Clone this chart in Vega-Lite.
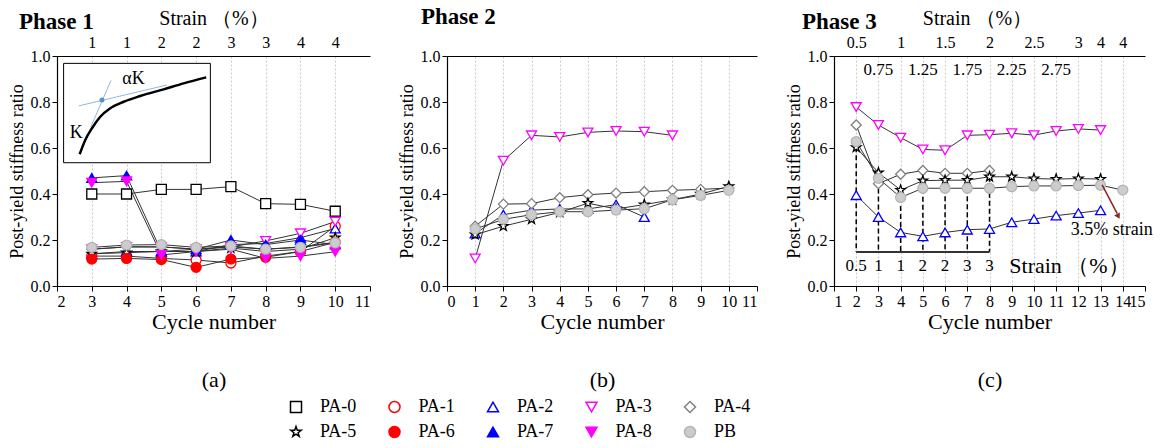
{
"$schema": "https://vega.github.io/schema/vega-lite/v6.json",
"padding": {"left": 8, "top": 6, "right": 2, "bottom": 2},
"background": "white",
"spacing": 77,
"bounds": "flush",
"datasets": {
"p1": [
{"series":"PA-0","cycle":3,"ratio":0.40},{"series":"PA-0","cycle":4,"ratio":0.40},{"series":"PA-0","cycle":5,"ratio":0.42},{"series":"PA-0","cycle":6,"ratio":0.42},{"series":"PA-0","cycle":7,"ratio":0.432},{"series":"PA-0","cycle":8,"ratio":0.358},{"series":"PA-0","cycle":9,"ratio":0.355},{"series":"PA-0","cycle":10,"ratio":0.325},
{"series":"PA-1","cycle":3,"ratio":0.13},{"series":"PA-1","cycle":4,"ratio":0.13},{"series":"PA-1","cycle":5,"ratio":0.12},{"series":"PA-1","cycle":6,"ratio":0.113},{"series":"PA-1","cycle":7,"ratio":0.10},{"series":"PA-1","cycle":8,"ratio":0.13},{"series":"PA-1","cycle":9,"ratio":0.15},{"series":"PA-1","cycle":10,"ratio":0.26},
{"series":"PA-2","cycle":3,"ratio":0.14},{"series":"PA-2","cycle":4,"ratio":0.15},{"series":"PA-2","cycle":5,"ratio":0.15},{"series":"PA-2","cycle":6,"ratio":0.15},{"series":"PA-2","cycle":7,"ratio":0.18},{"series":"PA-2","cycle":8,"ratio":0.185},{"series":"PA-2","cycle":9,"ratio":0.21},{"series":"PA-2","cycle":10,"ratio":0.25},
{"series":"PA-3","cycle":3,"ratio":0.16},{"series":"PA-3","cycle":4,"ratio":0.17},{"series":"PA-3","cycle":5,"ratio":0.17},{"series":"PA-3","cycle":6,"ratio":0.16},{"series":"PA-3","cycle":7,"ratio":0.17},{"series":"PA-3","cycle":8,"ratio":0.196},{"series":"PA-3","cycle":9,"ratio":0.229},{"series":"PA-3","cycle":10,"ratio":0.28},
{"series":"PA-4","cycle":3,"ratio":0.16},{"series":"PA-4","cycle":4,"ratio":0.17},{"series":"PA-4","cycle":5,"ratio":0.17},{"series":"PA-4","cycle":6,"ratio":0.16},{"series":"PA-4","cycle":7,"ratio":0.17},{"series":"PA-4","cycle":8,"ratio":0.16},{"series":"PA-4","cycle":9,"ratio":0.17},{"series":"PA-4","cycle":10,"ratio":0.19},
{"series":"PA-5","cycle":3,"ratio":0.14},{"series":"PA-5","cycle":4,"ratio":0.145},{"series":"PA-5","cycle":5,"ratio":0.15},{"series":"PA-5","cycle":6,"ratio":0.15},{"series":"PA-5","cycle":7,"ratio":0.165},{"series":"PA-5","cycle":8,"ratio":0.15},{"series":"PA-5","cycle":9,"ratio":0.16},{"series":"PA-5","cycle":10,"ratio":0.21},
{"series":"PA-6","cycle":3,"ratio":0.117},{"series":"PA-6","cycle":4,"ratio":0.12},{"series":"PA-6","cycle":5,"ratio":0.115},{"series":"PA-6","cycle":6,"ratio":0.081},{"series":"PA-6","cycle":7,"ratio":0.117},{"series":"PA-6","cycle":8,"ratio":0.125},{"series":"PA-6","cycle":9,"ratio":0.15},{"series":"PA-6","cycle":10,"ratio":0.19},
{"series":"PA-7","cycle":3,"ratio":0.47},{"series":"PA-7","cycle":4,"ratio":0.48},{"series":"PA-7","cycle":5,"ratio":0.15},{"series":"PA-7","cycle":6,"ratio":0.16},{"series":"PA-7","cycle":7,"ratio":0.2},{"series":"PA-7","cycle":8,"ratio":0.18},{"series":"PA-7","cycle":9,"ratio":0.2},{"series":"PA-7","cycle":10,"ratio":0.18},
{"series":"PA-8","cycle":3,"ratio":0.449},{"series":"PA-8","cycle":4,"ratio":0.455},{"series":"PA-8","cycle":5,"ratio":0.135},{"series":"PA-8","cycle":6,"ratio":0.15},{"series":"PA-8","cycle":7,"ratio":0.16},{"series":"PA-8","cycle":8,"ratio":0.12},{"series":"PA-8","cycle":9,"ratio":0.13},{"series":"PA-8","cycle":10,"ratio":0.149},
{"series":"PB","cycle":3,"ratio":0.168},{"series":"PB","cycle":4,"ratio":0.178},{"series":"PB","cycle":5,"ratio":0.18},{"series":"PB","cycle":6,"ratio":0.168},{"series":"PB","cycle":7,"ratio":0.174},{"series":"PB","cycle":8,"ratio":0.16},{"series":"PB","cycle":9,"ratio":0.168},{"series":"PB","cycle":10,"ratio":0.188}
],
"p2": [
{"series":"PA-2","cycle":1,"ratio":0.228},{"series":"PA-2","cycle":2,"ratio":0.31},{"series":"PA-2","cycle":3,"ratio":0.33},{"series":"PA-2","cycle":4,"ratio":0.335},{"series":"PA-2","cycle":5,"ratio":0.335},{"series":"PA-2","cycle":6,"ratio":0.354},{"series":"PA-2","cycle":7,"ratio":0.30},
{"series":"PA-3","cycle":1,"ratio":0.12},{"series":"PA-3","cycle":2,"ratio":0.545},{"series":"PA-3","cycle":3,"ratio":0.655},{"series":"PA-3","cycle":4,"ratio":0.648},{"series":"PA-3","cycle":5,"ratio":0.668},{"series":"PA-3","cycle":6,"ratio":0.674},{"series":"PA-3","cycle":7,"ratio":0.671},{"series":"PA-3","cycle":8,"ratio":0.655},
{"series":"PA-4","cycle":1,"ratio":0.26},{"series":"PA-4","cycle":2,"ratio":0.356},{"series":"PA-4","cycle":3,"ratio":0.358},{"series":"PA-4","cycle":4,"ratio":0.384},{"series":"PA-4","cycle":5,"ratio":0.397},{"series":"PA-4","cycle":6,"ratio":0.404},{"series":"PA-4","cycle":7,"ratio":0.41},{"series":"PA-4","cycle":8,"ratio":0.416},{"series":"PA-4","cycle":9,"ratio":0.42},{"series":"PA-4","cycle":10,"ratio":0.426},
{"series":"PA-5","cycle":1,"ratio":0.223},{"series":"PA-5","cycle":2,"ratio":0.26},{"series":"PA-5","cycle":3,"ratio":0.29},{"series":"PA-5","cycle":4,"ratio":0.32},{"series":"PA-5","cycle":5,"ratio":0.36},{"series":"PA-5","cycle":6,"ratio":0.335},{"series":"PA-5","cycle":7,"ratio":0.354},{"series":"PA-5","cycle":8,"ratio":0.375},{"series":"PA-5","cycle":9,"ratio":0.40},{"series":"PA-5","cycle":10,"ratio":0.433},
{"series":"PB","cycle":1,"ratio":0.248},{"series":"PB","cycle":2,"ratio":0.29},{"series":"PB","cycle":3,"ratio":0.31},{"series":"PB","cycle":4,"ratio":0.323},{"series":"PB","cycle":5,"ratio":0.323},{"series":"PB","cycle":6,"ratio":0.33},{"series":"PB","cycle":7,"ratio":0.336},{"series":"PB","cycle":8,"ratio":0.375},{"series":"PB","cycle":9,"ratio":0.394},{"series":"PB","cycle":10,"ratio":0.416}
],
"p3": [
{"series":"PA-2","cycle":2,"ratio":0.395},{"series":"PA-2","cycle":3,"ratio":0.30},{"series":"PA-2","cycle":4,"ratio":0.233},{"series":"PA-2","cycle":5,"ratio":0.216},{"series":"PA-2","cycle":6,"ratio":0.233},{"series":"PA-2","cycle":7,"ratio":0.245},{"series":"PA-2","cycle":8,"ratio":0.248},{"series":"PA-2","cycle":9,"ratio":0.277},{"series":"PA-2","cycle":10,"ratio":0.291},{"series":"PA-2","cycle":11,"ratio":0.306},{"series":"PA-2","cycle":12,"ratio":0.317},{"series":"PA-2","cycle":13,"ratio":0.329},
{"series":"PA-3","cycle":2,"ratio":0.778},{"series":"PA-3","cycle":3,"ratio":0.70},{"series":"PA-3","cycle":4,"ratio":0.645},{"series":"PA-3","cycle":5,"ratio":0.594},{"series":"PA-3","cycle":6,"ratio":0.59},{"series":"PA-3","cycle":7,"ratio":0.655},{"series":"PA-3","cycle":8,"ratio":0.658},{"series":"PA-3","cycle":9,"ratio":0.664},{"series":"PA-3","cycle":10,"ratio":0.656},{"series":"PA-3","cycle":11,"ratio":0.674},{"series":"PA-3","cycle":12,"ratio":0.683},{"series":"PA-3","cycle":13,"ratio":0.678},
{"series":"PA-4","cycle":2,"ratio":0.70},{"series":"PA-4","cycle":3,"ratio":0.445},{"series":"PA-4","cycle":4,"ratio":0.486},{"series":"PA-4","cycle":5,"ratio":0.502},{"series":"PA-4","cycle":6,"ratio":0.49},{"series":"PA-4","cycle":7,"ratio":0.49},{"series":"PA-4","cycle":8,"ratio":0.502},
{"series":"PA-5","cycle":2,"ratio":0.603},{"series":"PA-5","cycle":3,"ratio":0.493},{"series":"PA-5","cycle":4,"ratio":0.417},{"series":"PA-5","cycle":5,"ratio":0.458},{"series":"PA-5","cycle":6,"ratio":0.46},{"series":"PA-5","cycle":7,"ratio":0.46},{"series":"PA-5","cycle":8,"ratio":0.475},{"series":"PA-5","cycle":9,"ratio":0.475},{"series":"PA-5","cycle":10,"ratio":0.467},{"series":"PA-5","cycle":11,"ratio":0.465},{"series":"PA-5","cycle":12,"ratio":0.467},{"series":"PA-5","cycle":13,"ratio":0.465},
{"series":"PB","cycle":2,"ratio":0.628},{"series":"PB","cycle":3,"ratio":0.468},{"series":"PB","cycle":4,"ratio":0.385},{"series":"PB","cycle":5,"ratio":0.425},{"series":"PB","cycle":6,"ratio":0.425},{"series":"PB","cycle":7,"ratio":0.425},{"series":"PB","cycle":8,"ratio":0.425},{"series":"PB","cycle":9,"ratio":0.432},{"series":"PB","cycle":10,"ratio":0.435},{"series":"PB","cycle":11,"ratio":0.435},{"series":"PB","cycle":12,"ratio":0.437},{"series":"PB","cycle":13,"ratio":0.438},{"series":"PB","cycle":14,"ratio":0.417}
],
"curve": [
{"cycle":2.652,"ratio":0.573},{"cycle":2.813,"ratio":0.635},{"cycle":3.006,"ratio":0.686},{"cycle":3.244,"ratio":0.736},{"cycle":3.532,"ratio":0.773},{"cycle":3.917,"ratio":0.801},{"cycle":4.394,"ratio":0.826},{"cycle":5.066,"ratio":0.855},{"cycle":5.641,"ratio":0.881},{"cycle":6.29,"ratio":0.907}
],
"tangents": [
{"line":"K","cycle":2.977,"ratio":0.693},{"line":"K","cycle":3.552,"ratio":0.894},
{"line":"aK","cycle":2.624,"ratio":0.783},{"line":"aK","cycle":5.161,"ratio":0.874}
],
"dot": [{"cycle":3.293,"ratio":0.809}],
"insetLabels": [{"cycle":4.2,"ratio":0.9,"label":"αK"},{"cycle":2.555,"ratio":0.664,"label":"K"}],
"bracketLabels": [{"cycle":2,"label":"0.5"},{"cycle":3,"label":"1"},{"cycle":4,"label":"1"},{"cycle":5,"label":"2"},{"cycle":6,"label":"2"},{"cycle":7,"label":"3"},{"cycle":8,"label":"3"}],
"topRow2": [{"cycle":3,"label":"0.75"},{"cycle":5,"label":"1.25"},{"cycle":7,"label":"1.75"},{"cycle":9,"label":"2.25"},{"cycle":11,"label":"2.75"}]
},
"config": {
"font": "Liberation Serif",
"view": {"stroke": null},
"axis": {"labelFont": "Liberation Serif", "titleFont": "Liberation Serif", "labelColor": "black", "titleColor": "black", "domainColor": "black", "tickColor": "black", "labelFontSize": 16, "titleFontSize": 18, "titleFontWeight": "normal", "grid": false, "labelOverlap": false, "gridColor": "#bdbdbd", "gridDash": [2, 2], "gridWidth": 0.8, "domainWidth": 1.2},
"title": {"font": "Liberation Serif", "fontSize": 23, "fontWeight": "bold", "color": "black"},
"legend": {"orient": "none", "legendX": 230, "legendY": 342, "direction": "horizontal", "columns": 5, "labelFont": "Liberation Serif", "labelFontSize": 18, "labelColor": "black", "symbolSize": 121, "symbolStrokeWidth": 1.5, "labelOffset": 15, "columnPadding": 28.5, "rowPadding": 7, "gridAlign": "all", "padding": 0}
},
"hconcat": [
{
"width": 313, "height": 230,
"title": {"text": "Phase 1", "anchor": "start", "frame": "group", "dx": -38, "dy": 30},
"resolve": {"axis": {"x": "independent"}},
"layer": [
{"data": {"name": "p1"}, "mark": {"type": "line", "color": "#333333", "strokeWidth": 1},
 "encoding": {
  "x": {"field": "cycle", "type": "quantitative", "scale": {"domain": [2, 11], "nice": false, "zero": false},
   "axis": {"orient": "bottom", "values": [2,2.5,3,3.5,4,4.5,5,5.5,6,6.5,7,7.5,8,8.5,9,9.5,10,10.5,11], "format": "d", "labelExpr": "datum.value % 1 == 0 ? datum.label : ''", "tickSize": {"condition": {"test": "datum.value % 1 == 0", "value": 5}, "value": 3}, "title": ["Cycle number", "(a)"], "titleFontSize": 22, "titleLineHeight": 58, "titlePadding": 2}},
  "y": {"field": "ratio", "type": "quantitative", "scale": {"domain": [0, 1], "nice": false},
   "axis": {"values": [0,0.1,0.2,0.3,0.4,0.5,0.6,0.7,0.8,0.9,1], "labelExpr": "round(datum.value*10) % 2 == 0 ? format(datum.value, '.1f') : ''", "tickSize": {"condition": {"test": "round(datum.value*10) % 2 == 0", "value": 5}, "value": 3}, "title": "Post-yield stiffness ratio", "titlePadding": 4}},
  "detail": {"field": "series"}
 }},
{"data": {"name": "p1"}, "mark": {"type": "point", "filled": true, "size": 100, "strokeWidth": 1.3, "opacity": 1},
 "encoding": {
  "x": {"field": "cycle", "type": "quantitative",
   "axis": {"orient": "top", "values": [3,4,5,6,7,8,9,10], "labelExpr": "['','','','1','1','2','2','3','3','4','4'][datum.value]", "ticks": false, "tickSize": 0, "labelPadding": 6, "grid": true, "title": "Strain （%）", "titleFontSize": 20, "titlePadding": 6}},
  "y": {"field": "ratio", "type": "quantitative"},
  "shape": {"field": "series", "type": "nominal",
   "scale": {"domain": ["PA-0","PA-1","PA-2","PA-3","PA-4","PA-5","PA-6","PA-7","PA-8","PB"], "range": ["square","circle","triangle-up","triangle-down","diamond","M0,-1L0.235,-0.324L0.951,-0.309L0.38,0.124L0.588,0.809L0,0.4L-0.588,0.809L-0.38,0.124L-0.951,-0.309L-0.235,-0.324Z","circle","triangle-up","triangle-down","circle"]},
   "legend": {"title": null}},
  "stroke": {"field": "series", "type": "nominal",
   "scale": {"domain": ["PA-0","PA-1","PA-2","PA-3","PA-4","PA-5","PA-6","PA-7","PA-8","PB"], "range": ["#000000","#ff0000","#0000ff","#ff00ff","#808080","#000000","#ff0000","#0000ff","#ff00ff","#b5b5b5"]},
   "legend": {"title": null}},
  "fill": {"field": "series", "type": "nominal",
   "scale": {"domain": ["PA-0","PA-1","PA-2","PA-3","PA-4","PA-5","PA-6","PA-7","PA-8","PB"], "range": ["#ffffff","#ffffff","#ffffff","#ffffff","#ffffff","#ffffff","#ff0000","#0000ff","#ff00ff","#cccccc"]},
   "legend": {"title": null}}
 }},
{"data": {"values": [{}]}, "mark": {"type": "rect", "fill": "white", "stroke": "black", "strokeWidth": 1},
 "encoding": {"x": {"datum": 2.19, "type": "quantitative", "axis": null}, "x2": {"datum": 6.41}, "y": {"datum": 0.968, "type": "quantitative"}, "y2": {"datum": 0.536}}},
{"data": {"name": "tangents"}, "mark": {"type": "line", "color": "#8fb8e3", "strokeWidth": 1},
 "encoding": {"x": {"field": "cycle", "type": "quantitative", "axis": null}, "y": {"field": "ratio", "type": "quantitative"}, "detail": {"field": "line"}}},
{"data": {"name": "curve"}, "mark": {"type": "line", "color": "black", "strokeWidth": 2.5, "interpolate": "monotone"},
 "encoding": {"x": {"field": "cycle", "type": "quantitative", "axis": null}, "y": {"field": "ratio", "type": "quantitative"}}},
{"data": {"name": "dot"}, "mark": {"type": "circle", "color": "#5b8fc7", "size": 25, "opacity": 1},
 "encoding": {"x": {"field": "cycle", "type": "quantitative", "axis": null}, "y": {"field": "ratio", "type": "quantitative"}}},
{"data": {"name": "insetLabels"}, "mark": {"type": "text", "fontSize": 18, "font": "Liberation Serif", "color": "black"},
 "encoding": {"x": {"field": "cycle", "type": "quantitative", "axis": null}, "y": {"field": "ratio", "type": "quantitative"}, "text": {"field": "label"}}}
]
},
{
"width": 310, "height": 230,
"title": {"text": "Phase 2", "anchor": "start", "frame": "group", "dx": -26, "dy": -15},
"resolve": {"axis": {"x": "independent"}},
"layer": [
{"data": {"name": "p2"}, "mark": {"type": "line", "color": "#333333", "strokeWidth": 1},
 "encoding": {
  "x": {"field": "cycle", "type": "quantitative", "scale": {"domain": [0, 11], "nice": false, "zero": false},
   "axis": {"orient": "bottom", "values": [0,0.5,1,1.5,2,2.5,3,3.5,4,4.5,5,5.5,6,6.5,7,7.5,8,8.5,9,9.5,10,10.5,11], "format": "d", "labelExpr": "datum.value % 1 == 0 ? datum.label : ''", "tickSize": {"condition": {"test": "datum.value % 1 == 0", "value": 5}, "value": 3}, "title": ["Cycle number", "(b)"], "titleFontSize": 22, "titleLineHeight": 58, "titlePadding": 2}},
  "y": {"field": "ratio", "type": "quantitative", "scale": {"domain": [0, 1], "nice": false},
   "axis": {"values": [0,0.1,0.2,0.3,0.4,0.5,0.6,0.7,0.8,0.9,1], "labelExpr": "round(datum.value*10) % 2 == 0 ? format(datum.value, '.1f') : ''", "tickSize": {"condition": {"test": "round(datum.value*10) % 2 == 0", "value": 5}, "value": 3}, "title": "Post-yield stiffness ratio", "titlePadding": 4}},
  "detail": {"field": "series"}
 }},
{"data": {"name": "p2"}, "mark": {"type": "point", "filled": true, "size": 100, "strokeWidth": 1.3, "opacity": 1},
 "encoding": {
  "x": {"field": "cycle", "type": "quantitative",
   "axis": {"orient": "top", "values": [1,2,3,4,5,6,7,8,9,10], "labels": false, "ticks": false, "tickSize": 0, "grid": true, "title": null}},
  "y": {"field": "ratio", "type": "quantitative"},
  "shape": {"field": "series", "type": "nominal", "legend": {"title": null}},
  "stroke": {"field": "series", "type": "nominal", "legend": {"title": null}},
  "fill": {"field": "series", "type": "nominal", "legend": {"title": null}}
 }}
]
},
{
"width": 311, "height": 230,
"title": {"text": "Phase 3", "anchor": "start", "frame": "group", "dx": -32, "dy": 30},
"resolve": {"axis": {"x": "independent"}},
"layer": [
{"data": {"name": "p3"}, "mark": {"type": "line", "color": "#333333", "strokeWidth": 1},
 "encoding": {
  "x": {"field": "cycle", "type": "quantitative", "scale": {"domain": [1, 15], "nice": false, "zero": false},
   "axis": {"orient": "bottom", "values": [1,1.5,2,2.5,3,3.5,4,4.5,5,5.5,6,6.5,7,7.5,8,8.5,9,9.5,10,10.5,11,11.5,12,12.5,13,13.5,14,14.5,15], "format": "d", "labelExpr": "datum.value % 1 == 0 ? datum.label : ''", "tickSize": {"condition": {"test": "datum.value % 1 == 0", "value": 5}, "value": 3}, "title": ["Cycle number", "(c)"], "titleFontSize": 22, "titleLineHeight": 58, "titlePadding": 2}},
  "y": {"field": "ratio", "type": "quantitative", "scale": {"domain": [0, 1], "nice": false},
   "axis": {"values": [0,0.1,0.2,0.3,0.4,0.5,0.6,0.7,0.8,0.9,1], "labelExpr": "round(datum.value*10) % 2 == 0 ? format(datum.value, '.1f') : ''", "tickSize": {"condition": {"test": "round(datum.value*10) % 2 == 0", "value": 5}, "value": 3}, "title": "Post-yield stiffness ratio", "titlePadding": 4}},
  "detail": {"field": "series"}
 }},
{"data": {"name": "p3"}, "transform": [{"filter": "datum.series == 'PA-5' && datum.cycle <= 8"}],
 "mark": {"type": "rule", "color": "black", "strokeWidth": 1.5, "strokeDash": [5, 3]},
 "encoding": {"x": {"field": "cycle", "type": "quantitative", "axis": null}, "y": {"field": "ratio", "type": "quantitative"}, "y2": {"datum": 0.148}}},
{"data": {"values": [{}]}, "mark": {"type": "rule", "color": "#333333", "strokeWidth": 2},
 "encoding": {"x": {"datum": 2, "type": "quantitative", "axis": null}, "x2": {"datum": 8}, "y": {"datum": 0.148, "type": "quantitative"}}},
{"data": {"name": "p3"}, "mark": {"type": "point", "filled": true, "size": 100, "strokeWidth": 1.3, "opacity": 1},
 "encoding": {
  "x": {"field": "cycle", "type": "quantitative",
   "axis": {"orient": "top", "values": [2,3,4,5,6,7,8,9,10,11,12,13,14], "labelExpr": "['','','0.5','','1','','1.5','','2','','2.5','','3','4','4'][datum.value]", "ticks": false, "tickSize": 0, "labelPadding": 6, "grid": true, "title": "Strain （%）", "titleFontSize": 20, "titlePadding": 6, "titleX": 143}},
  "y": {"field": "ratio", "type": "quantitative"},
  "shape": {"field": "series", "type": "nominal", "legend": {"title": null}},
  "stroke": {"field": "series", "type": "nominal", "legend": {"title": null}},
  "fill": {"field": "series", "type": "nominal", "legend": {"title": null}}
 }},
{"data": {"name": "bracketLabels"}, "mark": {"type": "text", "fontSize": 17, "font": "Liberation Serif", "color": "black"},
 "encoding": {"x": {"field": "cycle", "type": "quantitative", "axis": null}, "y": {"datum": 0.085, "type": "quantitative"}, "text": {"field": "label"}}},
{"data": {"name": "topRow2"}, "mark": {"type": "text", "fontSize": 17, "font": "Liberation Serif", "color": "black"},
 "encoding": {"x": {"field": "cycle", "type": "quantitative", "axis": null}, "y": {"datum": 0.94, "type": "quantitative"}, "text": {"field": "label"}}},
{"data": {"values": [{"label": "Strain （%）"}]}, "mark": {"type": "text", "fontSize": 22, "font": "Liberation Serif", "color": "black"},
 "encoding": {"x": {"datum": 11.6, "type": "quantitative", "axis": null}, "y": {"datum": 0.085, "type": "quantitative"}, "text": {"field": "label"}}},
{"data": {"values": [{"label": "3.5% strain"}]}, "mark": {"type": "text", "fontSize": 18, "font": "Liberation Serif", "color": "black"},
 "encoding": {"x": {"datum": 13.5, "type": "quantitative", "axis": null}, "y": {"datum": 0.243, "type": "quantitative"}, "text": {"field": "label"}}},
{"data": {"values": [{}]}, "mark": {"type": "rule", "color": "#8b2323", "strokeWidth": 1.5},
 "encoding": {"x": {"datum": 13.07, "type": "quantitative", "axis": null}, "x2": {"datum": 13.75}, "y": {"datum": 0.44, "type": "quantitative"}, "y2": {"datum": 0.315}}},
{"data": {"values": [{}]}, "mark": {"type": "point", "shape": "triangle-down", "filled": true, "color": "#8b2323", "size": 40, "angle": 332, "opacity": 1},
 "encoding": {"x": {"datum": 13.8, "type": "quantitative", "axis": null}, "y": {"datum": 0.303, "type": "quantitative"}}}
]
}
]
}
